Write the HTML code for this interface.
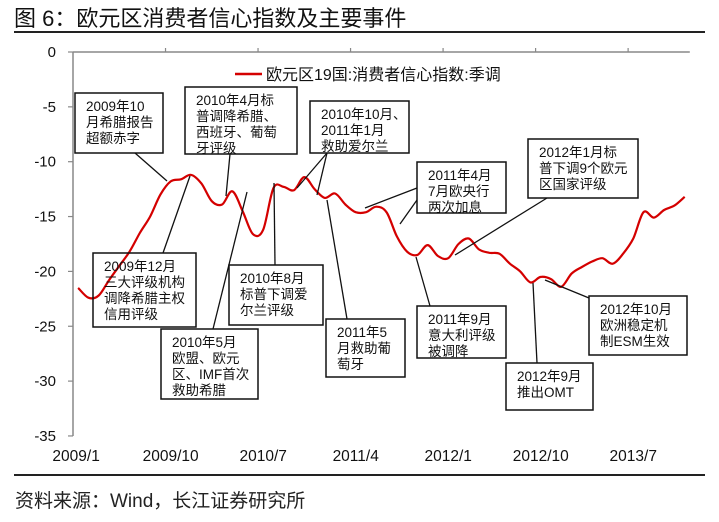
<!DOCTYPE html>
<html><head><meta charset="utf-8"><style>
body{margin:0;background:#fff;width:719px;height:517px;overflow:hidden;font-family:"Liberation Sans","Noto Sans CJK SC",sans-serif}
svg text{font-family:"Liberation Sans","Noto Sans CJK SC",sans-serif}
</style></head><body>
<svg id="chart" width="719" height="517" viewBox="0 0 719 517">
<text x="14" y="26" font-size="22" fill="#111">图 6：欧元区消费者信心指数及主要事件</text>
<line x1="14" y1="32" x2="705" y2="32" stroke="#222" stroke-width="2"/>
<g id="axes"></g>
<g id="series"></g>
<g id="notes"></g>
<line x1="235" y1="74" x2="262" y2="74" stroke="#d40000" stroke-width="2.5"/>
<text x="266" y="80" font-size="16" fill="#111">欧元区19国:消费者信心指数:季调</text>
<line x1="14" y1="475" x2="705" y2="475" stroke="#222" stroke-width="2"/>
<text x="15" y="507" font-size="19" fill="#222">资料来源：Wind，长江证券研究所</text>
</svg>
<script>
const values=[-21.5,-22.4,-22.2,-20.8,-19.5,-18.2,-16.5,-15,-13,-11.8,-11.6,-11.2,-12,-13.6,-13.9,-12.7,-14.5,-16.6,-16.2,-12.4,-12.3,-12.6,-11.4,-12.5,-13.3,-12.9,-13.9,-14.6,-14.6,-14.1,-14.6,-16.8,-18.2,-18.5,-17.6,-18.6,-18.8,-17.5,-17,-18,-18.3,-18.4,-19.3,-20,-21,-20.5,-20.7,-21.4,-20.2,-19.6,-19.1,-18.8,-19.3,-18.4,-17,-14.6,-15.1,-14.4,-14.0,-13.2];
const xTickLabels=["2009/1","2009/10","2010/7","2011/4","2012/1","2012/10","2013/7"];
const yTicks=[0,-5,-10,-15,-20,-25,-30,-35];
const NS="http://www.w3.org/2000/svg";
const X0=73,BW=10.28,Y0=52,YK=10.97;
function xb(i){return X0+i*BW;}
function xc(i){return X0+(i+0.5)*BW;}
function y(v){return Y0-v*YK;}
function mk(tag,attrs,parent){const e=document.createElementNS(NS,tag);for(const k in attrs)e.setAttribute(k,attrs[k]);parent.appendChild(e);return e;}
const ax=document.getElementById('axes');
const yl=mk('line',{x1:X0,y1:y(0),x2:X0,y2:y(-35),stroke:'#888','stroke-width':1.5},ax);


const xl=mk('line',{x1:X0,y1:y(0),x2:xb(values.length),y2:y(0),stroke:'#888','stroke-width':1.5},ax);


yTicks.forEach(v=>{
  mk('line',{x1:X0-5,y1:y(v),x2:X0,y2:y(v),stroke:'#888','stroke-width':1.2},ax);
  const t=mk('text',{x:56,y:y(v)+5,'font-size':15,'text-anchor':'end',fill:'#111'},ax);
  t.textContent=String(v);
  
  
});
xTickLabels.forEach((s,k)=>{
  const i=k*9;
  if(k>0)mk('line',{x1:xb(i),y1:y(0)-4,x2:xb(i),y2:y(0),stroke:'#888','stroke-width':1.2},ax);
  const t=mk('text',{x:xc(i)+(k==0?-2:0),y:461,'font-size':15.5,'text-anchor':'middle',fill:'#111'},ax);
  t.textContent=s;
  
  
});
const pts=values.map((v,i)=>[xc(i),y(v)]);
let d='M'+pts[0][0].toFixed(1)+','+pts[0][1].toFixed(1);
for(let i=0;i<pts.length-1;i++){
  const p0=pts[Math.max(0,i-1)],p1=pts[i],p2=pts[i+1],p3=pts[Math.min(pts.length-1,i+2)];
  const c1=[p1[0]+(p2[0]-p0[0])/6,p1[1]+(p2[1]-p0[1])/6],c2=[p2[0]-(p3[0]-p1[0])/6,p2[1]-(p3[1]-p1[1])/6];
  d+=' C'+c1.map(n=>n.toFixed(1))+' '+c2.map(n=>n.toFixed(1))+' '+p2.map(n=>n.toFixed(1));
}
const ln=mk('path',{d:d,fill:'none',stroke:'#d40000','stroke-width':2.2},document.getElementById('series'));


const notes=[
 {n:'note-2009-10',b:[75,93,88,60],t:['2009年10','月希腊报告','超额赤字'],l:[[135,153,167,181]]},
 {n:'note-2010-04',b:[185,87,112,67],t:['2010年4月标','普调降希腊、','西班牙、葡萄','牙评级'],l:[[230,154,226,196]]},
 {n:'note-2010-10',b:[310,101,99,52],t:['2010年10月、','2011年1月','救助爱尔兰'],l:[[327,153,297,188],[327,153,317,195]]},
 {n:'note-2011-04',b:[417,162,89,51],t:['2011年4月','7月欧央行','两次加息'],l:[[417,188,365,208],[417,200,400,224]]},
 {n:'note-2012-01',b:[528,139,110,59],t:['2012年1月标','普下调9个欧元','区国家评级'],l:[[547,198,455,255]]},
 {n:'note-2009-12',b:[93,253,103,74],t:['2009年12月','三大评级机构','调降希腊主权','信用评级'],l:[[163,253,190,176]]},
 {n:'note-2010-05',b:[161,329,97,70],t:['2010年5月','欧盟、欧元','区、IMF首次','救助希腊'],l:[[213,329,247,192]]},
 {n:'note-2010-08',b:[229,265,94,60],t:['2010年8月','标普下调爱','尔兰评级'],l:[[275,265,274,183]]},
 {n:'note-2011-05',b:[326,319,79,58],t:['2011年5','月救助葡','萄牙'],l:[[347,319,327,200]]},
 {n:'note-2011-09',b:[417,306,89,52],t:['2011年9月','意大利评级','被调降'],l:[[430,306,416,257]]},
 {n:'note-2012-09',b:[506,363,87,47],t:['2012年9月','推出OMT'],l:[[537,363,533,283]]},
 {n:'note-2012-10',b:[589,296,98,59],t:['2012年10月','欧洲稳定机','制ESM生效'],l:[[589,298,545,280]]}
];
const ng=document.getElementById('notes');
notes.forEach(o=>{
  const g=mk('g',{},ng);
  
  
  o.l.forEach(s=>mk('line',{x1:s[0],y1:s[1],x2:s[2],y2:s[3],stroke:'#111','stroke-width':1.3},g));
  mk('rect',{x:o.b[0],y:o.b[1],width:o.b[2],height:o.b[3],fill:'none',stroke:'#111','stroke-width':1.5},g);
  o.t.forEach((s,k)=>{const t=mk('text',{x:o.b[0]+11,y:o.b[1]+18+k*16,'font-size':13.5,fill:'#111'},g);t.textContent=s;});
});
</script>
</body></html>
